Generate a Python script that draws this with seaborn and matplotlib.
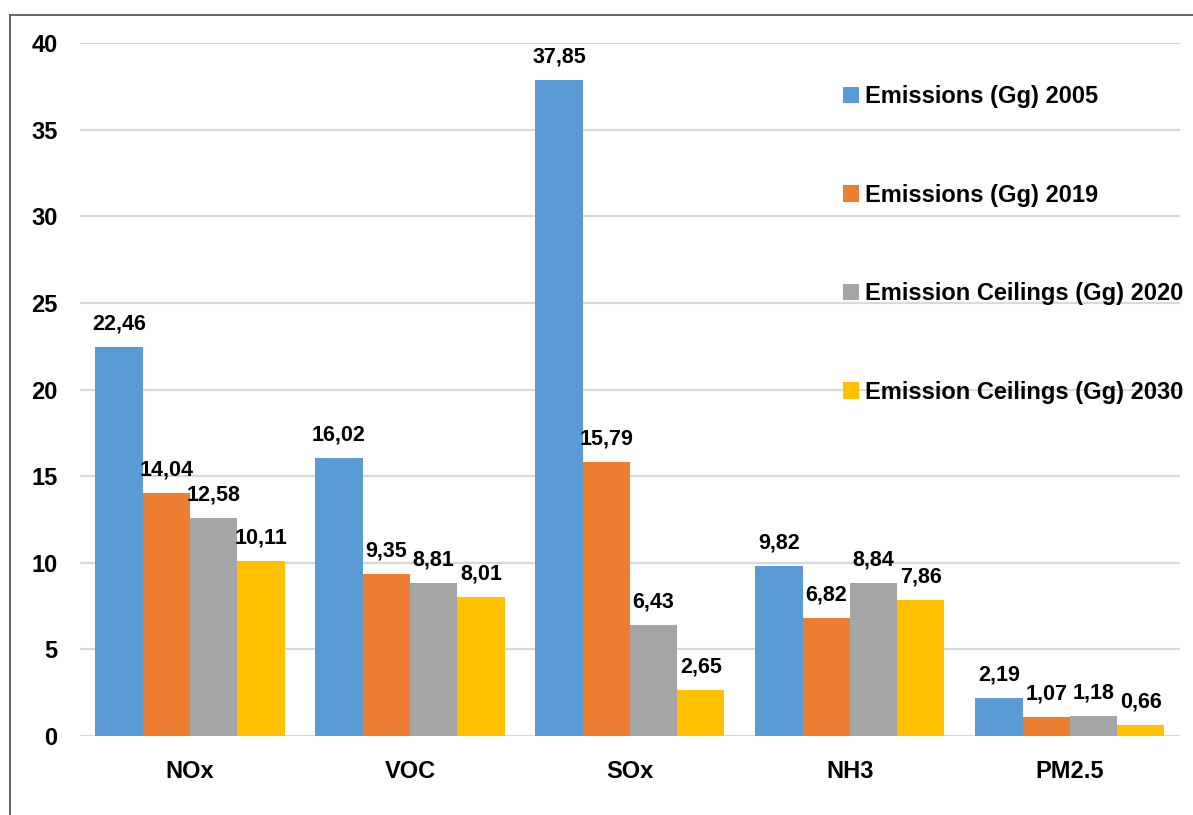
import pandas as pd
import seaborn as sns
from matplotlib import pyplot as plt
from matplotlib.lines import Line2D

pollutants = ["NOx", "VOC", "SOx", "NH3", "PM2.5"]
series_names = [
    "Emissions (Gg) 2005",
    "Emissions (Gg) 2019",
    "Emission Ceilings (Gg) 2020",
    "Emission Ceilings (Gg) 2030",
]
emissions_2005 = [22.46, 16.02, 37.85, 9.82, 2.19]
emissions_2019 = [14.04, 9.35, 15.79, 6.82, 1.07]
ceilings_2020 = [12.58, 8.81, 6.43, 8.84, 1.18]
ceilings_2030 = [10.11, 8.01, 2.65, 7.86, 0.66]
colors = ["#5B9BD5", "#ED7D31", "#A5A5A5", "#FFC000"]

rows = []
for name, vals in zip(series_names, [emissions_2005, emissions_2019, ceilings_2020, ceilings_2030]):
    for p, v in zip(pollutants, vals):
        rows.append({"pollutant": p, "series": name, "value": v})
df = pd.DataFrame(rows)

sns.set_style("white")
plt.rcParams["font.family"] = ["Liberation Sans", "DejaVu Sans"]
plt.rcParams["font.weight"] = "bold"
plt.rcParams["text.color"] = "black"
plt.rcParams["xtick.color"] = "black"
plt.rcParams["ytick.color"] = "black"

fig = plt.figure(figsize=(11.93, 8.15), dpi=100)
ax = fig.add_axes([0.067, 0.097, 0.922, 0.850])

sns.barplot(df, x="pollutant", y="value", hue="series", palette=colors,
            width=0.86, errorbar=None, saturation=1, linewidth=0, ax=ax, zorder=3)

for container in ax.containers:
    ax.bar_label(container, labels=[f"{v:.2f}".replace(".", ",") for v in container.datavalues],
                 padding=9, fontsize=15.5, fontweight="bold", color="black")

ax.set_ylim(0, 40)
ax.set_xlim(-0.5, 4.5)
ax.set_yticks(range(0, 41, 5))
ax.yaxis.grid(True, color="#D9D9D9", linewidth=1.6, zorder=0)
ax.set_axisbelow(True)
for s in ax.spines.values():
    s.set_visible(False)
ax.tick_params(axis="y", length=0, pad=16, labelsize=17)
ax.tick_params(axis="x", length=0, pad=17, labelsize=17)
for t in ax.get_xticklabels() + ax.get_yticklabels():
    t.set_fontweight("bold")
ax.set_xlabel("")
ax.set_ylabel("")

ax.legend(title=None, loc="upper left", bbox_to_anchor=(0.685, 0.953), frameon=False,
          labelspacing=3.2, handlelength=0.7, handleheight=0.7,
          handletextpad=0.25, borderaxespad=0,
          prop={"weight": "bold", "size": 17})

# outer frame of the chart area
fig.add_artist(Line2D([10 / 1193, 10 / 1193], [0, 1 - 15 / 815], transform=fig.transFigure,
                      color="#595959", linewidth=1.3))
fig.add_artist(Line2D([10 / 1193, 1], [1 - 15 / 815, 1 - 15 / 815], transform=fig.transFigure,
                      color="#595959", linewidth=1.3))

plt.savefig("out.png", dpi=100)
